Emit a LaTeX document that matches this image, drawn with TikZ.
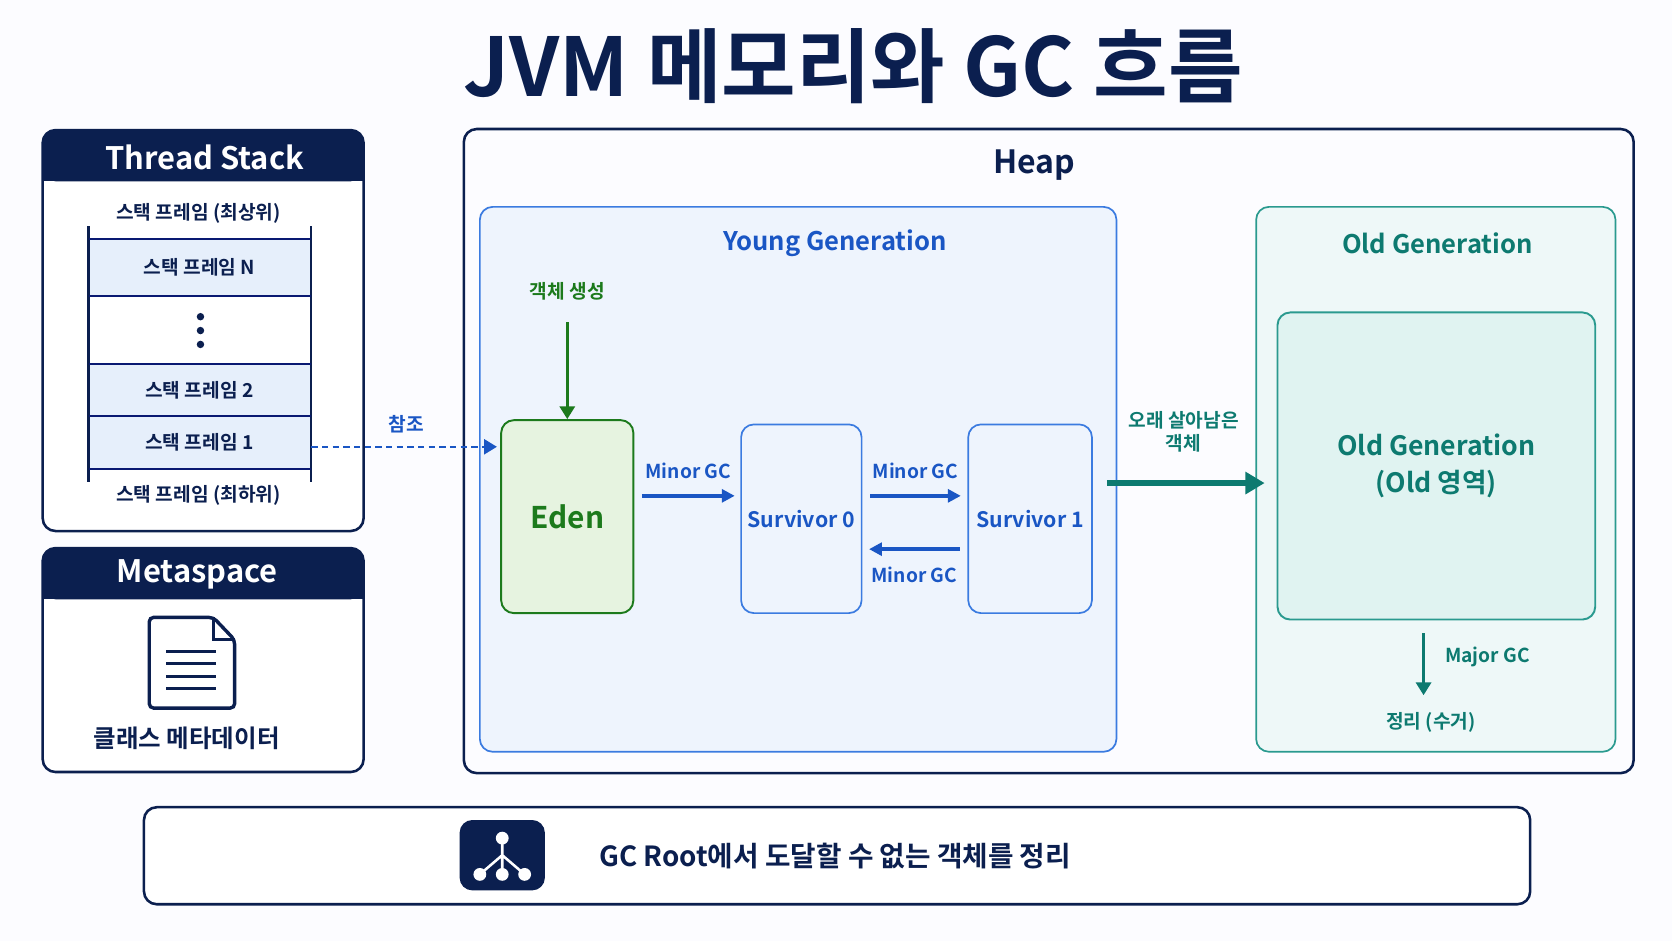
\documentclass[tikz,border=0pt]{standalone}
\usepackage{fontspec}
\setmainfont{Noto Sans CJK KR}[BoldFont={* Bold}]
\usetikzlibrary{arrows.meta}
\definecolor{navy}{HTML}{0B1F4F}
\definecolor{bl}{HTML}{1A56C4}
\definecolor{blb}{HTML}{3B7BE0}
\definecolor{blf}{HTML}{EEF4FD}
\definecolor{rowf}{HTML}{E6EFFB}
\definecolor{gr}{HTML}{1C7A1C}
\definecolor{grf}{HTML}{E6F3E0}
\definecolor{tl}{HTML}{0D7A70}
\definecolor{tlb}{HTML}{2A9A8F}
\definecolor{tlf}{HTML}{EEF8F8}
\definecolor{tlf2}{HTML}{E0F3F1}
\tikzset{
 panel/.style={draw=navy,line width=1.2pt,rounded corners=6pt,fill=white},
 box/.style={draw=blb,line width=0.8pt,rounded corners=6pt,fill=blf,inner sep=0pt},
 lbl/.style={font=\fontsize{9}{11}\selectfont\bfseries},
 arr/.style={-{Triangle[length=6pt,width=6pt]},line width=1.6pt,draw=bl},
}
\begin{document}
\begin{tikzpicture}[x=0.5pt,y=-0.5pt]
\fill[white!97!blue!40!white] (0,0) rectangle (1568,882);
\useasboundingbox (0,0) rectangle (1568,882);
\node (title) at (800,62) {\fontsize{38}{40}\selectfont\bfseries\color{navy}JVM 메모리와 GC 흐름};
% Thread stack
\draw[panel] (40,122) rectangle (341,498);
\fill[navy,rounded corners=6pt] (40,122) rectangle (341,170);
\fill[navy] (40,150) rectangle (341,170);
\node (ts) at (192,148) {\fontsize{14.5}{17}\selectfont\bfseries\color{white}Thread Stack};
\node[lbl,text=navy] (top) at (186,200) {스택 프레임 (최상위)};
\node[lbl,text=navy] (bot) at (186,465) {스택 프레임 (최하위)};
\fill[rowf] (83,224) rectangle (292,278);
\fill[rowf] (83,341) rectangle (292,440);
\draw[navy,line width=1pt] (83,212) -- (83,452) (292,212) -- (292,452);
\foreach \y in {224,278,341,390,440} \draw[navy!80!blue,line width=0.9pt] (83,\y) -- (292,\y);
\node[lbl,text=navy] (fn) at (187,251) {스택 프레임 N};
\node[lbl,text=navy] (f2) at (187,366) {스택 프레임 2};
\node[lbl,text=navy] (f1) at (187,415) {스택 프레임 1};
\foreach \y in {297,310,323} \fill[navy] (188,\y) circle (3.5);
\coordinate (f1r) at (292,419);
% Metaspace
\draw[panel] (40,514) rectangle (341,724);
\fill[navy,rounded corners=6pt] (40,514) rectangle (341,562);
\fill[navy] (40,540) rectangle (341,562);
\node (ms) at (185,539) {\fontsize{14.5}{17}\selectfont\bfseries\color{white}Metaspace};
\draw[navy,line width=1.6pt,rounded corners=2pt] (140,579) -- (200,579) -- (220,600) -- (220,664) -- (140,664) -- cycle;
\draw[navy,line width=1.4pt] (200,579) -- (200,600) -- (220,600);
\foreach \y in {611,622,634,646} \draw[navy,line width=1.4pt] (156,\y) -- (203,\y);
\node (cm) at (175,692) {\fontsize{11.5}{14}\selectfont\bfseries\color{navy}클래스 메타데이터};
% Heap
\draw[panel,fill=white!96!blue!30!white] (435,121) rectangle (1532,725);
\node (heap) at (970,155) {\fontsize{15}{17}\selectfont\bfseries\color{navy}Heap};
\draw[box] (450,194) rectangle (1047,705);
\node (yg) at (783,228) {\fontsize{12}{14}\selectfont\bfseries\color{bl}Young Generation};
\node[lbl,text=gr] (new) at (532,273) {객체 생성};
\node[draw=gr,line width=0.9pt,fill=grf,rounded corners=6pt,minimum width=62pt,minimum height=90.5pt,inner sep=0pt] (eden) at (532,484.5) {\fontsize{14}{16}\selectfont\bfseries\color{gr}Eden};
\node[box,minimum width=56.5pt,minimum height=88.5pt] (s0) at (751.5,486.5) {\fontsize{10}{13}\selectfont\bfseries\color{bl}Survivor 0};
\node[box,minimum width=58pt,minimum height=88.5pt] (s1) at (966,486.5) {\fontsize{10}{13}\selectfont\bfseries\color{bl}Survivor 1};
\coordinate (newa) at (532,302);
\draw[arr,draw=gr,-{Triangle[length=6pt,width=7pt]}] (newa) -- (eden.north);
\coordinate (a1) at (602,465); \coordinate (a2) at (689,465);
\coordinate (b1) at (816,465); \coordinate (b2) at (901,465);
\coordinate (c1) at (900,515); \coordinate (c2) at (815,515);
\draw[arr] (a1) -- (a2) node[pos=0.5,above=4pt,lbl,text=bl] {Minor GC};
\draw[arr] (b1) -- (b2) node[pos=0.5,above=4pt,lbl,text=bl] {Minor GC};
\draw[arr] (c1) -- (c2) node[pos=0.5,below=4pt,lbl,text=bl] {Minor GC};
% Old gen
\draw[draw=tlb,line width=0.8pt,rounded corners=6pt,fill=tlf] (1178,194) rectangle (1515,705);
\node (og) at (1348,228) {\fontsize{12}{14}\selectfont\bfseries\color{tl}Old Generation};
\node[draw=tlb,line width=0.9pt,rounded corners=6pt,fill=tlf2,minimum width=149pt,minimum height=144pt,align=center,font=\fontsize{12.5}{17.5}\selectfont\bfseries,text=tl] (old) at (1347,437) {Old Generation\\(Old 영역)};
\coordinate (yr) at (1038,453);
\coordinate (og1) at (1186,453);
\draw[-{Triangle[length=9pt,width=10pt]},line width=2.4pt,draw=tl] (yr) -- (og1);
\node[align=center,lbl,text=tl] (surv) at (1110,405) {오래 살아남은\\객체};
\node[lbl,text=tl] (clean) at (1342,677) {정리 (수거)};
\coordinate (mg) at (1335,594);
\coordinate (mg2) at (1335,652);
\draw[-{Triangle[length=6pt,width=7pt]},line width=1.6pt,draw=tl] (mg) -- (mg2);
\node[lbl,text=tl] (mgl) at (1395,616) {Major GC};
\coordinate (rf) at (466,419);
\draw[line width=1.1pt,draw=bl,dash pattern=on 3pt off 2pt,-{Triangle[length=6pt,width=7pt]}] (f1r) -- (rf);
\node[lbl,text=bl] (ref) at (381,398) {참조};
% Bottom
\draw[panel] (135,757) rectangle (1435,848);
\node[fill=navy,rounded corners=6pt,minimum width=40pt,minimum height=33pt] (icon) at (471,802) {};
\draw[white,line width=1.2pt] (471,786) -- (471,802) (471,802) -- (450,820) (471,802) -- (471,820) (471,802) -- (492,820);
\foreach \p in {(471,786),(450,820),(471,820),(492,820)} \fill[white] \p circle (6);
\node[anchor=west] (gct) at (555,803) {\fontsize{13}{15}\selectfont\bfseries\color{navy}GC Root에서 도달할 수 없는 객체를 정리};
\end{tikzpicture}
\end{document}
